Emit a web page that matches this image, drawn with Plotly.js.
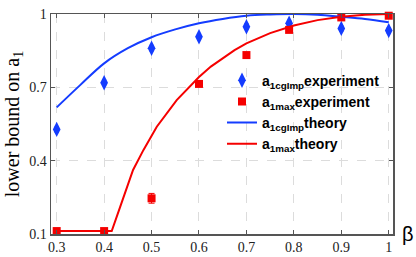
<!DOCTYPE html>
<html><head><meta charset="utf-8">
<script src="https://cdn.plot.ly/plotly-3.0.1.min.js"></script>
<style>html,body{margin:0;padding:0;background:#fff}#c{width:416px;height:257px}</style>
</head><body><div id="c"></div>
<script>
// experiment data
const betaExp = [0.3, 0.4, 0.5, 0.6, 0.7, 0.79, 0.9, 1.0];
const cgImpExp = [0.528, 0.719, 0.86, 0.907, 0.948, 0.962, 0.941, 0.932];
const cgImpErr = [0.012, 0.012, 0.012, 0.012, 0.012, 0.012, 0.012, 0.012];
const maxExp = [0.112, 0.112, 0.246, 0.714, 0.832, 0.935, 0.986, 0.993];
const maxErr = [0.005, 0.005, 0.02, 0.008, 0.008, 0.008, 0.008, 0.008];
// theory curves
const betaCgImpTh = [0.3, 0.35, 0.4, 0.45, 0.5, 0.55, 0.6, 0.65, 0.7, 0.75, 0.8, 0.85, 0.9, 0.95, 1.0];
const cgImpTh = [0.618, 0.71, 0.798, 0.86, 0.905, 0.937, 0.962, 0.98, 0.993, 0.998, 1.0, 0.997, 0.989, 0.98, 0.966];
const betaMaxTh = [0.3, 0.416, 0.434, 0.461, 0.483, 0.511, 0.553, 0.6, 0.625, 0.65, 0.675, 0.7, 0.75, 0.8, 0.85, 0.9, 0.95, 1.0];
const maxTh = [0.112, 0.112, 0.212, 0.362, 0.444, 0.539, 0.648, 0.742, 0.785, 0.82, 0.852, 0.88, 0.922, 0.953, 0.975, 0.989, 0.997, 1.0];
const xTicks = [0.3, 0.4, 0.5, 0.6, 0.7, 0.8, 0.9, 1];
const xTickText = ['0.3', '0.4', '0.5', '0.6', '0.7', '0.8', '0.9', '1'];
const yTicks = [0.1, 0.4, 0.7, 1];
const yTickText = ['0.1', '0.4', '0.7', '1'];

const blue = 'rgb(20,60,255)';
const red = 'rgb(245,0,0)';
const traces = [
  {x: betaExp, y: cgImpExp, mode: 'markers', type: 'scatter', cliponaxis: false,
   name: 'a<sub>1cgImp</sub>experiment',
   marker: {symbol: 'diamond-tall', size: 11, color: blue},
   error_y: {type: 'data', array: cgImpErr, visible: true, color: blue, thickness: 1, width: 2}},
  {x: betaExp, y: maxExp, mode: 'markers', type: 'scatter', cliponaxis: false,
   name: 'a<sub>1max</sub>experiment',
   marker: {symbol: 'square', size: 8, color: red},
   error_y: {type: 'data', array: maxErr, visible: true, color: red, thickness: 1, width: 3}},
  {x: betaCgImpTh, y: cgImpTh, mode: 'lines', type: 'scatter',
   name: 'a<sub>1cgImp</sub>theory', line: {color: blue, width: 2, shape: 'spline'}},
  {x: betaMaxTh, y: maxTh, mode: 'lines', type: 'scatter',
   name: 'a<sub>1max</sub>theory', line: {color: red, width: 2, shape: 'linear'}}
];

const layout = {
  width: 416, height: 257,
  margin: {l: 51, r: 23, t: 14, b: 23, pad: 0},
  paper_bgcolor: '#fff', plot_bgcolor: '#fff',
  showlegend: true,
  legend: {x: 0.5, y: 0.77, xanchor: 'left', yanchor: 'top', bgcolor: 'rgba(0,0,0,0)',
    font: {family: 'Liberation Sans, Arial', size: 14, color: '#000', weight: 'bold'},
    tracegroupgap: 0, itemwidth: 30},
  xaxis: {range: [0.288, 1.009], tickvals: xTicks, ticktext: xTickText,
    tickfont: {family: 'Liberation Serif, Times New Roman', size: 14, color: '#222'},
    showgrid: true, gridcolor: '#dcdcdc', griddash: 'dash', gridwidth: 1,
    zeroline: false, showline: true, linecolor: '#555', linewidth: 1.5, mirror: 'ticks',
    ticks: 'inside', ticklen: 4, tickcolor: '#555'},
  yaxis: {range: [0.1, 1.0], tickvals: yTicks, ticktext: yTickText,
    tickfont: {family: 'Liberation Serif, Times New Roman', size: 14, color: '#222'},
    showgrid: true, gridcolor: '#dcdcdc', griddash: 'dash', gridwidth: 1,
    zeroline: false, showline: true, linecolor: '#555', linewidth: 1.5, mirror: 'ticks',
    ticks: 'inside', ticklen: 4, tickcolor: '#555',
    title: {text: 'lower bound on a<sub>1</sub>', standoff: 4,
      font: {family: 'Liberation Serif, Times New Roman', size: 20, color: '#000'}}},
  annotations: [{text: 'β', xref: 'paper', yref: 'paper', x: 1.02, y: 0.0, xanchor: 'left', yanchor: 'middle',
    showarrow: false, font: {family: 'Liberation Sans, Arial', size: 20, color: '#000'}}]
};
Plotly.newPlot('c', traces, layout, {staticPlot: true, displayModeBar: false});
</script></body></html>
